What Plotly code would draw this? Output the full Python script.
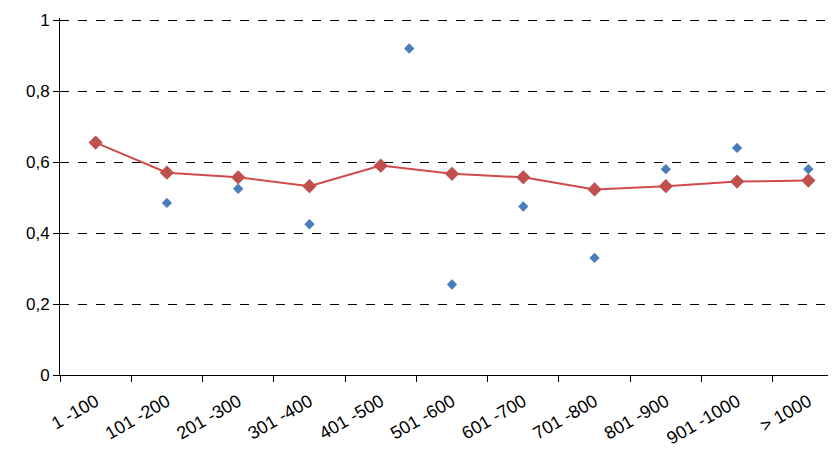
import plotly.graph_objects as go

categories = ["1 -100", "101 -200", "201 -300", "301 -400", "401 -500", "501 -600",
              "601 -700", "701 -800", "801 -900", "901 -1000", "> 1000"]
mean_values = [0.655, 0.57, 0.557, 0.532, 0.59, 0.567, 0.557, 0.523, 0.532, 0.545, 0.548]
point_x = [0, 1, 2, 3, 4.4, 5, 6, 7, 8, 9, 10]
point_values = [0.655, 0.485, 0.525, 0.425, 0.92, 0.255, 0.475, 0.33, 0.58, 0.64, 0.58]
y_ticks = [0, 0.2, 0.4, 0.6, 0.8, 1]

fig = go.Figure()
fig.add_trace(go.Scatter(
    x=point_x, y=point_values, mode="markers",
    marker=dict(symbol="diamond", size=8, color="#4a7ebb"),
))
fig.add_trace(go.Scatter(
    x=list(range(len(categories))), y=mean_values, mode="lines+markers",
    line=dict(color="#d24a4a", width=2),
    marker=dict(symbol="diamond", size=11, color="#c0504d"),
))

fig.update_layout(
    width=836, height=460, showlegend=False,
    plot_bgcolor="white", paper_bgcolor="white",
    margin=dict(l=52, r=0, t=10, b=93, autoexpand=False),
    font=dict(family="Liberation Sans, Arial", size=17, color="black"),
    xaxis=dict(
        range=[-0.5, 10.5], tickvals=list(range(len(categories))), ticktext=categories,
        tickangle=-30, ticks="", showgrid=False, zeroline=False, automargin=False,
        showline=True, linecolor="black", ticklabelstandoff=8,
        tickfont=dict(size=18),
        minor=dict(tickvals=[i - 0.5 for i in range(len(categories) + 1)],
                   ticks="outside", ticklen=6, tickcolor="black", showgrid=False),
    ),
    yaxis=dict(
        range=[0, 1.006], tickvals=y_ticks, automargin=False,
        ticktext=[f"{v:g}".replace(".", ",") for v in y_ticks],
        ticks="outside", ticklen=6, tickcolor="black",
        showline=True, linecolor="black", zeroline=False,
        gridcolor="black", griddash="dash", gridwidth=1,
    ),
)
fig.write_html("out.html")
